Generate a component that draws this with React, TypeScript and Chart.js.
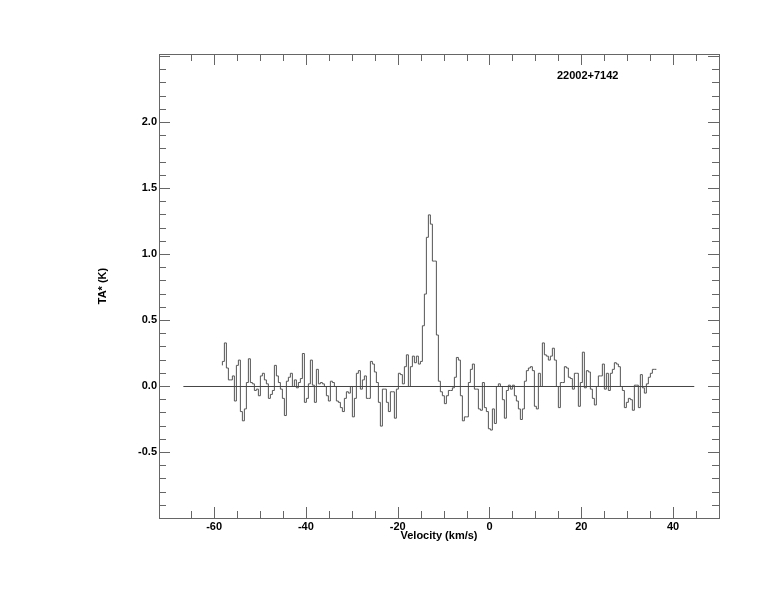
import React, { useEffect, useRef } from 'react';
import { Chart, registerables } from 'chart.js';

Chart.register(...registerables);

// ---- data ----
const SOURCE_NAME = '22002+7142';
const V_START = -58.3; // left edge of first channel (km/s)
const CHANNEL_WIDTH = 0.4357; // km/s
const TA: number[] = [
  0.16, 0.19, 0.33, 0.14, 0.05, 0.05, 0.08, -0.11, 0.16, 0.20,
  -0.19, -0.26, -0.17, 0.03, 0.21, 0.03, 0.02, -0.03, -0.02, -0.07,
  0.08, 0.10, 0.05, 0.02, -0.09, -0.06, -0.03, 0.16, 0.08, 0.03,
  -0.02, -0.09, -0.22, 0.04, 0.07, 0.10, 0.00, 0.05, -0.01, 0.03,
  0.06, 0.25, -0.12, -0.09, 0.02, 0.20, 0.01, -0.12, 0.13, 0.02,
  0.03, 0.02, 0.00, -0.07, -0.11, 0.04, 0.03, 0.00, -0.11,
  -0.12, -0.16, -0.19, -0.09, -0.04, -0.05, 0.00, -0.23, -0.09, 0.10,
  0.12, -0.02, 0.05, 0.08, -0.09, -0.09, 0.19, 0.17, 0.11, 0.03,
  -0.12, -0.30, -0.02, -0.02, -0.12, -0.19, -0.04, -0.04, -0.24, -0.02,
  0.10, 0.09, 0.02, 0.15, 0.24, 0.00, 0.15, 0.23, 0.18, 0.23,
  0.17, 0.19,
  0.46, 0.70, 1.13, 1.30, 1.23, 0.95, 0.95, 0.39,
  0.04, -0.04, -0.07, -0.13, -0.07, -0.03, -0.03, -0.01, 0.07, 0.22,
  0.20, -0.07, -0.26, -0.23, -0.23, 0.03, 0.13, 0.17, -0.02, -0.02,
  -0.17, -0.18, 0.03, -0.16, -0.19, -0.32, -0.33, -0.17, -0.28, 0.00,
  0.02, 0.00, -0.10, -0.24, -0.03, 0.01, -0.02, 0.01, -0.07, -0.11,
  -0.17, -0.25, -0.17, 0.04, 0.12, 0.14, 0.15, 0.12, -0.15, -0.17,
  0.10, 0.00, 0.33, 0.24, 0.23, 0.20, 0.23, 0.29, 0.20, 0.00,
  -0.16,
  0.03, 0.03, 0.15, 0.14, 0.07, 0.06, -0.02, 0.10, 0.10, -0.15,
  0.03, 0.26, -0.01, 0.12, 0.11, -0.02, -0.09, -0.14, 0.00, 0.08,
  0.08, 0.17, -0.02, 0.10, -0.03, 0.10, 0.13, 0.18, 0.17, 0.15,
  0.00, -0.03, -0.16, -0.12, -0.09, -0.10, -0.18, 0.01, 0.01, -0.16,
  0.09, -0.01, -0.05, 0.02, 0.07, 0.10, 0.13,
];
const BASELINE_V = [-66.8, 44.5];
const BASELINE_T = [0, 0];

const X_MIN = -72;
const X_MAX = 50;
const Y_MIN = -1.0;
const Y_MAX = 2.515;
const X_TICKS = [-60, -40, -20, 0, 20, 40];
const Y_TICKS = [-0.5, 0.0, 0.5, 1.0, 1.5, 2.0];
const X_MINOR = 5;
const X_MINOR_FIRST = -65;
const X_MINOR_LAST = 45;
const Y_MINOR = 0.1;
const X_TITLE = 'Velocity (km/s)';
const Y_TITLE = 'TA* (K)';
const LABEL_POS = { v: 14.7, t: 2.35 };

const FONT = { family: '"Liberation Sans", Arial, Helvetica, sans-serif', size: 11, weight: 'bold' as const };

const framePlugin = {
  id: 'frameTicks',
  beforeDatasetsDraw(chart: any) {
    chart.ctx.save();
    chart.ctx.translate(0.5, 0.5);
  },
  afterDatasetsDraw(chart: any) {
    chart.ctx.restore();
  },
  afterDraw(chart: any) {
    const { ctx, chartArea, scales } = chart;
    const { left, right, top, bottom } = chartArea;
    const x = scales.x;
    const y = scales.y;
    ctx.save();
    ctx.strokeStyle = '#666';
    ctx.lineWidth = 1;
    ctx.strokeRect(left + 0.5, top + 0.5, right - left, bottom - top);
    ctx.beginPath();
    const kx0 = Math.round(X_MINOR_FIRST / X_MINOR);
    const kx1 = Math.round(X_MINOR_LAST / X_MINOR);
    for (let k = kx0; k <= kx1; k++) {
      const v = k * X_MINOR;
      const px = Math.round(x.getPixelForValue(v)) + 0.5;
      if (px <= left + 1 || px >= right) continue;
      const len = v % 20 === 0 ? 11 : 7;
      ctx.moveTo(px, bottom);
      ctx.lineTo(px, bottom - len);
      ctx.moveTo(px, top);
      ctx.lineTo(px, top + len);
    }
    const ky0 = Math.ceil(Y_MIN / Y_MINOR - 1e-6);
    const ky1 = Math.floor(Y_MAX / Y_MINOR + 1e-6);
    for (let k = ky0; k <= ky1; k++) {
      const py = Math.round(y.getPixelForValue(k * Y_MINOR)) + 0.5;
      if (py <= top + 1 || py >= bottom) continue;
      const len = k % 5 === 0 ? 11 : 7;
      ctx.moveTo(left, py);
      ctx.lineTo(left + len, py);
      ctx.moveTo(right, py);
      ctx.lineTo(right - len, py);
    }
    ctx.stroke();
    ctx.fillStyle = '#000';
    ctx.font = `bold 11px ${FONT.family}`;
    ctx.textBaseline = 'middle';
    ctx.textAlign = 'left';
    ctx.fillText(SOURCE_NAME, x.getPixelForValue(LABEL_POS.v), y.getPixelForValue(LABEL_POS.t));
    ctx.restore();
  },
};

export default function App() {
  const ref = useRef<HTMLCanvasElement | null>(null);
  useEffect(() => {
    if (!ref.current) return;
    const spectrum = TA.map((t, i) => ({ x: V_START + i * CHANNEL_WIDTH, y: t }));
    spectrum.push({ x: V_START + TA.length * CHANNEL_WIDTH, y: TA[TA.length - 1] });
    const baseline = BASELINE_V.map((v, i) => ({ x: v, y: BASELINE_T[i] }));
    const chart = new Chart(ref.current, {
      type: 'line',
      data: {
        datasets: [
          {
            data: baseline,
            borderColor: '#444',
            borderWidth: 1,
            pointRadius: 0,
            fill: false,
          },
          {
            data: spectrum,
            borderColor: '#555',
            borderWidth: 1,
            pointRadius: 0,
            stepped: 'after',
            fill: false,
          },
        ],
      },
      options: {
        animation: false,
        responsive: false,
        events: [],
        layout: { padding: { left: 0, top: 54, right: 55, bottom: 0 } },
        plugins: { legend: { display: false }, tooltip: { enabled: false } },
        scales: {
          x: {
            type: 'linear',
            min: X_MIN,
            max: X_MAX,
            grid: { display: false, drawTicks: false },
            border: { display: false },
            afterBuildTicks: (s: any) => {
              s.ticks = X_TICKS.map((v) => ({ value: v }));
            },
            afterFit: (s: any) => {
              s.height = 94;
            },
            ticks: {
              autoSkip: false,
              maxRotation: 0,
              minRotation: 0,
              padding: 2,
              color: '#000',
              font: FONT,
              callback: (v: any) => String(v),
            },
            title: {
              display: true,
              text: X_TITLE,
              color: '#000',
              font: FONT,
              padding: { top: 0, bottom: 69.5 },
            },
          },
          y: {
            type: 'linear',
            min: Y_MIN,
            max: Y_MAX,
            grid: { display: false, drawTicks: false },
            border: { display: false },
            afterBuildTicks: (s: any) => {
              s.ticks = Y_TICKS.map((v) => ({ value: v }));
            },
            afterFit: (s: any) => {
              s.width = 159;
            },
            ticks: {
              autoSkip: false,
              padding: 2,
              color: '#000',
              font: FONT,
              callback: (v: any) => Number(v).toFixed(1),
            },
            title: {
              display: true,
              text: Y_TITLE,
              color: '#000',
              font: FONT,
              padding: { top: 96.5, bottom: 0 },
            },
          },
        },
      },
      plugins: [framePlugin],
    });
    return () => chart.destroy();
  }, []);
  return (
    <div style={{ position: 'absolute', left: 0, top: 0, width: 774, height: 612, background: '#fff' }}>
      <canvas ref={ref} width={774} height={612} style={{ width: 774, height: 612, display: 'block' }} />
    </div>
  );
}
